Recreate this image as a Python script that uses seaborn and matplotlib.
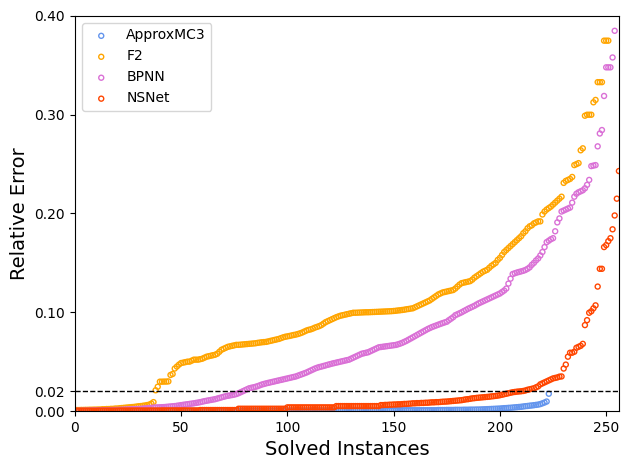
import numpy as np
import pandas as pd
import matplotlib
matplotlib.use("Agg")
import matplotlib.pyplot as plt
import seaborn as sns

# Relative errors (in units of 1e-3), sorted ascending, one per solved instance
approxmc3 = [
    0.1,0.1,0.1,0.1,0.1,0.1,0.1,0.1,0.1,0.1, 0.1,0.1,0.1,0.1,0.1,0.1,0.1,0.1,0.1,0.1,
    0.1,0.1,0.1,0.1,0.1,0.1,0.1,0.1,0.1,0.1, 0.1,0.1,0.1,0.1,0.1,0.1,0.1,0.1,0.1,0.1,
    0.2,0.2,0.2,0.2,0.2,0.2,0.2,0.2,0.2,0.2, 0.2,0.2,0.2,0.2,0.2,0.2,0.2,0.2,0.2,0.2,
    0.2,0.2,0.2,0.2,0.2,0.2,0.2,0.2,0.2,0.2, 0.2,0.2,0.2,0.2,0.2,0.2,0.2,0.2,0.2,0.2,
    0.3,0.3,0.3,0.3,0.3,0.3,0.3,0.3,0.3,0.3, 0.3,0.3,0.3,0.3,0.3,0.3,0.3,0.3,0.3,0.3,
    0.3,0.3,0.3,0.3,0.3,0.3,0.3,0.3,0.3,0.3,
    0.4,0.4,0.4,0.4,0.4,0.4,0.4,0.4,0.4,0.4, 0.4,0.4,0.4,0.4,0.4,0.4,0.4,0.4,0.4,0.4,
    0.6,0.6,0.6,0.6,0.6,0.6,0.6,0.6,0.6,0.6, 0.6,0.6,0.6,0.6,0.6,0.6,0.6,0.6,0.6,0.6,
    0.8,0.8,0.8,0.8,0.8,0.8,0.8,0.8,0.8,0.8, 0.8,0.8,0.8,0.8,0.8,0.8,0.8,0.8,0.8,0.8,
    1.0,1.0,1.0,1.0,1.1,1.1,1.1,1.1,1.2,1.2, 1.2,1.2,1.3,1.3,1.3,1.4,1.4,1.4,1.5,1.5,
    1.6,1.7,1.8,1.9,2.0,2.1,2.2,2.3,2.4,2.5,
    2.7,2.9,3.0,3.2,3.3,3.5,3.7,3.9,4.1,4.3,
    4.6,4.9,5.1,5.4,5.6,5.9,6.2,6.5,
    7.0,7.8,8.6,9.6,17.5,
]

f2 = [
    1.0,1.0,1.1,1.1,1.2,1.2,1.3,1.3,1.4,1.4,
    1.5,1.5,1.8,1.8,2.0,2.0,2.2,2.2,2.5,2.5,
    2.8,3.0,3.2,3.4,3.6,3.8,4.0,4.2,4.5,4.8,
    5.0,5.3,5.6,6.0,6.5,7.5,9.0,
    21.0,24.6,29.7,29.7,29.8,29.8,30.0,36.5,37.5,
    43.0,45.0,47.0,48.6,49.0,49.5,50.0,50.0,51.0,52.0,
    52.0,52.0,52.5,53.0,54.0,55.0,55.5,56.0,56.5,57.0,
    58.0,60.0,62.0,63.0,64.0,65.0,65.5,66.0,66.5,67.0,
    67.0,67.2,67.4,67.6,67.8,68.0,68.2,68.4,68.6,
    69.0,69.3,69.6,69.8,70.0,
    70.5,71.0,71.5,72.0,72.5,73.0,73.8,74.6,
    75.2,75.6,76.0,76.5,77.0,77.4,78.0,78.7,
    79.5,80.5,81.5,82.2,82.7,
    83.5,84.5,85.2,86.0,
    87.0,88.5,90.0,91.0,92.0,
    93.0,94.0,95.0,95.8,96.5,
    97.0,97.5,98.0,98.5,99.0,99.5,
    99.5,99.6,99.7,99.8,99.9,100.0,100.0,100.1,100.2,100.3,100.4,100.5,
    100.6,100.7,100.8,100.9,101.0,101.1,101.3,101.5,
    101.8,102.0,102.3,102.6,103.0,103.3,103.7,104.0,
    105.0,106.0,107.0,108.0,109.0,110.0,111.0,112.0,
    113.5,115.0,116.5,118.0,119.0,
    120.0,120.5,121.0,121.5,122.0,122.5,
    124.0,126.0,128.0,129.5,
    130.0,130.5,131.0,131.5,
    133.0,135.0,136.5,138.0,
    139.5,141.0,142.0,143.0,
    145.0,147.0,148.5,150.0,
    153.0,155.0,158.0,161.0,
    163.0,165.0,167.0,169.0,171.0,173.0,
    175.0,177.0,180.0,182.0,185.0,
    187.0,188.0,190.0,191.0,192.0,192.0,
    199.0,202.0,204.0,
    205.5,207.0,209.0,211.0,213.0,215.0,217.0,
    231.0,233.0,234.0,235.0,237.0,
    249.0,250.0,251.0,
    264.0,266.0,
    299.0,300.0,300.0,300.0,
    312.6,315.0,
    333.0,333.0,333.0,
    375.0,375.0,375.0,
]

bpnn = [
    0.2,0.2,0.3,0.3,0.4,0.4,0.5,0.5,0.6,0.6,0.7,0.7,0.8,0.8,0.9,0.9,1.0,1.0,1.1,1.1,
    1.2,1.3,1.4,1.5,1.6,1.7,1.8,1.9,2.0,2.1,2.2,2.4,2.6,2.8,3.0,3.2,3.4,
    3.6,3.7,3.8,3.9,4.0,4.2,4.4,4.6,4.8,5.0,5.3,5.6,
    6.0,6.3,6.6,6.9,7.2,7.5,7.8,8.2,8.6,9.0,9.5,
    10.0,10.4,10.8,11.2,11.6,12.0,12.6,13.2,13.8,14.4,
    15.0,15.4,15.8,16.2,16.6,17.2,18.0,19.0,20.0,21.0,
    22.0,23.0,23.5,24.0,24.5,25.2,26.0,26.8,27.4,28.0,
    28.5,29.0,29.5,30.0,30.5,31.0,31.5,32.0,32.5,33.0,
    33.5,34.0,34.5,35.0,35.8,36.6,37.4,38.2,39.0,40.0,
    41.0,42.0,43.0,43.8,44.5,45.0,45.6,46.2,46.8,47.4,48.0,
    48.5,49.0,49.5,50.0,50.5,51.0,51.5,52.0,53.0,
    54.0,55.0,56.0,57.0,58.0,58.5,59.0,59.5,60.5,61.5,62.5,63.5,64.5,
    64.8,65.1,65.4,65.7,66.0,66.3,66.6,66.9,
    67.5,68.2,69.0,70.0,71.0,72.2,73.4,74.6,
    75.8,77.0,78.2,79.4,80.6,81.8,83.0,84.0,
    85.0,85.8,86.6,87.4,88.2,89.0,89.7,90.4,
    92.0,93.5,95.0,97.0,98.0,99.0,100.0,101.2,102.3,
    103.5,104.5,105.5,106.5,107.8,109.0,110.0,111.0,112.0,113.0,114.0,
    115.0,116.0,117.0,118.0,119.0,120.5,122.0,124.0,129.0,134.0,
    138.7,139.5,140.2,140.8,141.4,142.0,142.8,
    144.0,145.5,148.0,150.0,152.5,154.5,157.5,161.0,
    166.0,171.0,172.5,174.0,175.0,182.0,191.0,195.0,
    202.0,203.0,204.0,205.0,206.0,211.0,217.0,
    220.0,221.5,222.5,223.5,225.5,229.0,234.0,248.0,248.5,249.0,
    268.0,281.0,284.5,319.0,348.0,348.0,348.0,358.0,385.0,
]

nsnet = [
    0.3,0.3,0.3,0.3,0.3,0.3,0.3,0.3,0.3,0.3, 0.4,0.4,0.4,0.4,0.4,0.4,0.4,0.4,0.4,0.4,
    0.5,0.5,0.5,0.5,0.5,0.5,0.5,0.5,0.5,0.5, 0.5,0.5,0.5,0.5,0.5,0.5,0.5,0.5,0.5,0.5,
    0.6,0.6,0.6,0.6,0.6,0.6,0.6,0.6,0.6,0.6, 0.6,0.6,0.6,0.6,0.6,0.6,0.6,0.6,
    1.0,1.0,1.0,1.0,1.0,1.0,1.0,1.0,1.0,1.0, 1.0,1.0,1.0,1.0,1.0,1.0,1.0,1.0,
    2.3,2.3,2.3,2.3,2.3,2.3,2.3,2.3,2.3,2.3, 2.3,2.3,2.3,2.3,2.3,2.3,2.3,2.3,2.3,2.3, 2.3,2.3,2.3,
    3.7,3.7,3.7,3.7,3.7,3.7,3.7,3.7,3.7,3.7, 3.7,3.7,3.7,3.7,3.7,3.7,3.7,3.7,3.7,3.7, 3.7,3.7,3.7,
    5.0,5.0,5.0,5.0,5.0,5.0,5.0,5.0,5.0,5.0, 5.0,5.0,5.0,5.0,5.0,5.0,5.0,5.0,5.0,5.0, 5.0,
    6.0,6.0,6.2,6.2,6.4,6.4,6.6,6.6,6.8,6.8,7.0,7.2,7.2,7.4,7.5,
    7.8,7.8,8.0,8.0,8.2,8.2,8.4,8.4,8.6,8.8,8.8,9.0,9.0,9.2,9.4,9.5,
    9.6,9.8,10.0,10.2,10.4,10.6,10.8,11.0,11.4,11.8,12.0,12.4,12.8,13.0,13.3,
    13.5,13.7,13.9,14.1,14.3,14.5,14.8,15.0,15.3,15.6,16.0,
    16.5,17.0,17.5,18.0,18.5,19.0,19.3,19.6,19.8,20.0,20.3,20.8,
    21.5,22.0,22.5,23.0,24.0,25.0,27.0,28.0,29.0,30.0,
    31.0,32.0,33.0,33.5,34.0,34.8,35.0,
    43.0,47.0,55.0,59.0,59.0,60.0,64.0,65.0,66.0,68.0,87.0,92.0,99.5,101.0,
    104.0,107.0,126.0,144.0,144.0,166.0,168.0,172.0,175.0,184.0,198.0,215.0,243.0,
]

methods = ["ApproxMC3", "F2", "BPNN", "NSNet"]
series = [approxmc3, f2, bpnn, nsnet]
colors = ["#6495ED", "#FFA500", "#DA70D6", "#FF4500"]

yticks = [0.00, 0.02, 0.10, 0.20, 0.30, 0.40]
xticks = [0, 50, 100, 150, 200, 250]

fig, ax = plt.subplots(figsize=(6.29, 4.70), dpi=100)

for name, vals, col in zip(methods, series, colors):
    df = pd.DataFrame({
        "Solved Instances": np.arange(1, len(vals) + 1),
        "Relative Error": np.asarray(vals) / 1000.0,
    })
    sns.scatterplot(data=df, x="Solved Instances", y="Relative Error", ax=ax,
                    marker="o", s=13, color=col, linewidth=1.0, label=name,
                    legend=False)
    coll = ax.collections[-1]
    coll.set_facecolor("none")
    coll.set_edgecolor(col)
    coll.set_linewidth(1.0)
    coll.set_label(name)

ax.axhline(0.02, color="black", linestyle="--", linewidth=1.0)

ax.set_xlim(0, 256)
ax.set_ylim(0, 0.40)
ax.set_yticks(yticks)
ax.set_yticklabels([f"{t:.2f}" for t in yticks])
ax.set_xticks(xticks)
ax.set_xlabel("Solved Instances", fontsize=14)
ax.set_ylabel("Relative Error", fontsize=14)
ax.tick_params(labelsize=10)

ax.legend(loc="upper left", fontsize=10)

fig.subplots_adjust(left=0.119, right=0.984, top=0.966, bottom=0.1255)
fig.savefig("out.png", dpi=100)
